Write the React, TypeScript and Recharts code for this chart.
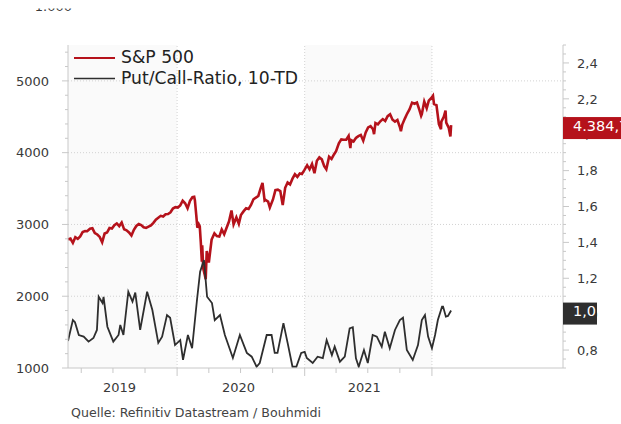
import React from 'react';
import { LineChart, Line, XAxis, YAxis, ReferenceArea, ReferenceLine, ReferenceDot } from 'recharts';

// S&P 500 (left axis)
const spxDates = [
  '2019-02-22', '2019-03-01', '2019-03-08', '2019-03-15', '2019-03-22', '2019-03-29', '2019-04-05', '2019-04-12',
  '2019-04-18', '2019-04-26', '2019-05-03', '2019-05-10', '2019-05-17', '2019-05-24', '2019-05-31', '2019-06-07',
  '2019-06-14', '2019-06-21', '2019-06-28', '2019-07-05', '2019-07-12', '2019-07-19', '2019-07-26', '2019-08-02',
  '2019-08-09', '2019-08-16', '2019-08-23', '2019-08-30', '2019-09-06', '2019-09-13', '2019-09-20', '2019-09-27',
  '2019-10-04', '2019-10-11', '2019-10-18', '2019-10-25', '2019-11-01', '2019-11-08', '2019-11-15', '2019-11-22',
  '2019-11-29', '2019-12-06', '2019-12-13', '2019-12-20', '2019-12-27', '2020-01-03', '2020-01-10', '2020-01-17',
  '2020-01-24', '2020-01-31', '2020-02-07', '2020-02-14', '2020-02-19', '2020-02-21', '2020-02-25', '2020-02-28',
  '2020-03-03', '2020-03-06', '2020-03-09', '2020-03-12', '2020-03-13', '2020-03-16', '2020-03-20', '2020-03-23',
  '2020-03-26', '2020-04-01', '2020-04-09', '2020-04-17', '2020-04-24', '2020-05-01', '2020-05-08', '2020-05-15',
  '2020-05-22', '2020-05-29', '2020-06-05', '2020-06-11', '2020-06-19', '2020-06-26', '2020-07-02', '2020-07-10',
  '2020-07-17', '2020-07-24', '2020-07-31', '2020-08-07', '2020-08-14', '2020-08-21', '2020-08-28', '2020-09-02',
  '2020-09-08', '2020-09-11', '2020-09-18', '2020-09-23', '2020-10-02', '2020-10-09', '2020-10-16', '2020-10-23',
  '2020-10-30', '2020-11-06', '2020-11-13', '2020-11-20', '2020-11-27', '2020-12-04', '2020-12-11', '2020-12-18',
  '2020-12-24', '2020-12-31', '2021-01-08', '2021-01-15', '2021-01-22', '2021-01-29', '2021-02-05', '2021-02-12',
  '2021-02-19', '2021-02-26', '2021-03-04', '2021-03-12', '2021-03-19', '2021-03-26', '2021-04-01', '2021-04-09',
  '2021-04-16', '2021-04-23', '2021-04-30', '2021-05-07', '2021-05-12', '2021-05-14', '2021-05-21', '2021-05-28',
  '2021-06-04', '2021-06-11', '2021-06-18', '2021-06-25', '2021-07-02', '2021-07-09', '2021-07-16', '2021-07-19',
  '2021-07-23', '2021-07-30', '2021-08-06', '2021-08-13', '2021-08-20', '2021-08-27', '2021-09-03', '2021-09-10',
  '2021-09-17', '2021-09-24', '2021-10-01', '2021-10-04', '2021-10-08', '2021-10-15', '2021-10-22', '2021-10-29',
  '2021-11-05', '2021-11-12', '2021-11-19', '2021-11-26', '2021-12-01', '2021-12-03', '2021-12-10', '2021-12-17',
  '2021-12-23', '2021-12-31', '2022-01-04', '2022-01-07', '2022-01-14', '2022-01-21', '2022-01-27', '2022-01-28',
  '2022-02-04', '2022-02-09', '2022-02-11', '2022-02-18', '2022-02-23', '2022-02-25',
];
const spxValues = [
  2793, 2804, 2743, 2822, 2800, 2834, 2893, 2907,
  2905, 2940, 2946, 2881, 2860, 2826, 2752, 2873,
  2887, 2950, 2942, 2990, 3014, 2977, 3026, 2932,
  2919, 2889, 2847, 2926, 2979, 3007, 2992, 2961,
  2952, 2970, 2986, 3023, 3067, 3093, 3120, 3110,
  3141, 3146, 3169, 3221, 3240, 3235, 3265, 3330,
  3295, 3226, 3328, 3380, 3386, 3338, 3128, 2954,
  3003, 2972, 2747, 2481, 2711, 2386, 2305, 2237,
  2630, 2470, 2790, 2875, 2837, 2831, 2930, 2864,
  2955, 3044, 3194, 3002, 3098, 3009, 3130, 3185,
  3225, 3216, 3271, 3351, 3373, 3397, 3508, 3580,
  3332, 3341, 3319, 3237, 3348, 3477, 3484, 3465,
  3270, 3510, 3585, 3558, 3638, 3699, 3663, 3709,
  3703, 3756, 3825, 3768, 3841, 3714, 3887, 3934,
  3907, 3811, 3768, 3943, 3913, 3975, 4020, 4129,
  4185, 4180, 4181, 4233, 4063, 4174, 4156, 4204,
  4230, 4247, 4166, 4281, 4352, 4370, 4327, 4258,
  4412, 4395, 4437, 4468, 4442, 4509, 4535, 4459,
  4433, 4455, 4357, 4300, 4391, 4471, 4545, 4605,
  4697, 4682, 4698, 4595, 4513, 4538, 4712, 4620,
  4725, 4766, 4793, 4677, 4662, 4398, 4327, 4432,
  4500, 4587, 4419, 4349, 4225, 4384.7,
];

// Put/Call-Ratio, 10-TD (right axis)
const pcrDates = [
  '2019-02-22', '2019-03-08', '2019-03-14', '2019-03-25', '2019-04-08', '2019-04-22', '2019-05-06', '2019-05-16',
  '2019-05-21', '2019-06-01', '2019-06-04', '2019-06-15', '2019-07-02', '2019-07-17', '2019-07-22', '2019-07-31',
  '2019-08-14', '2019-08-26', '2019-09-03', '2019-09-17', '2019-10-07', '2019-10-22', '2019-11-08', '2019-11-19',
  '2019-12-03', '2019-12-12', '2019-12-26', '2020-01-10', '2020-01-18', '2020-02-01', '2020-02-13', '2020-02-27',
  '2020-03-07', '2020-03-18', '2020-03-27', '2020-04-10', '2020-04-18', '2020-05-03', '2020-05-17', '2020-06-09',
  '2020-06-29', '2020-07-19', '2020-08-02', '2020-08-16', '2020-08-25', '2020-09-14', '2020-09-28', '2020-10-07',
  '2020-10-15', '2020-11-01', '2020-11-13', '2020-11-27', '2020-12-08', '2020-12-22', '2021-01-01', '2021-01-07',
  '2021-01-24', '2021-02-07', '2021-02-22', '2021-03-05', '2021-03-20', '2021-03-28', '2021-04-12', '2021-04-26',
  '2021-05-10', '2021-05-19', '2021-05-28', '2021-06-05', '2021-06-20', '2021-07-01', '2021-07-15', '2021-07-27',
  '2021-08-10', '2021-08-19', '2021-09-02', '2021-09-17', '2021-10-01', '2021-10-10', '2021-10-21', '2021-11-07',
  '2021-11-22', '2021-12-03', '2021-12-12', '2021-12-21', '2022-01-01', '2022-01-10', '2022-01-18', '2022-01-30',
  '2022-02-02', '2022-02-10', '2022-02-16', '2022-02-25',
];
const pcrValues = [
  0.85, 0.967, 0.955, 0.884, 0.875, 0.847, 0.867, 0.912,
  1.097, 1.062, 1.096, 0.93, 0.847, 0.884, 0.94, 0.884,
  1.125, 1.07, 1.12, 0.912, 1.125, 1.023, 0.84, 0.875,
  0.995, 0.98, 0.828, 0.856, 0.745, 0.884, 0.81, 1.079,
  1.237, 1.302, 1.097, 1.062, 0.967, 0.995, 0.884, 0.756,
  0.884, 0.784, 0.763, 0.707, 0.728, 0.884, 0.884, 0.784,
  0.784, 0.95, 0.84, 0.707, 0.707, 0.784, 0.79, 0.756,
  0.728, 0.763, 0.755, 0.856, 0.772, 0.819, 0.735, 0.763,
  0.921, 0.927, 0.754, 0.707, 0.8, 0.728, 0.884, 0.875,
  0.819, 0.902, 0.81, 0.912, 0.967, 0.98, 0.8, 0.745,
  0.828, 0.967, 0.995, 0.875, 0.81, 0.884, 0.967, 1.042,
  1.042, 0.986, 0.99, 1.02,
];

const xDomain = ['2019-02-22', '2023-01-12'];
const quarterTicks = [
  '2019-04-01', '2019-07-01', '2019-10-01', '2020-01-01', '2020-04-01', '2020-07-01',
  '2020-10-01', '2021-01-01', '2021-04-01', '2021-07-01', '2021-10-01', '2022-01-01',
];
const yearStarts = ['2020-01-01', '2021-01-01', '2022-01-01'];
const shadedYears = [['2019-02-22', '2020-01-01'], ['2021-01-01', '2022-01-01']];
const yearLabels = ['2019', '2020', '2021'];
const yearLabelDates = ['2019-07-20', '2020-06-25', '2021-06-21'];

const leftTicks = [1000, 1200, 1400, 1600, 1800, 2000, 2200, 2400, 2600, 2800, 3000, 3200, 3400, 3600,
  3800, 4000, 4200, 4400, 4600, 4800, 5000, 5200, 5400];
const leftGrid = [2000, 3000, 4000, 5000];
const rightTicks = [0.7, 0.75, 0.8, 0.85, 0.9, 0.95, 1.0, 1.05, 1.1, 1.15, 1.2, 1.25, 1.3, 1.35, 1.4, 1.45,
  1.5, 1.55, 1.6, 1.65, 1.7, 1.75, 1.8, 1.85, 1.9, 1.95, 2.0, 2.05, 2.1, 2.15, 2.2, 2.25, 2.3, 2.35, 2.4, 2.45, 2.5];

const ts = (d: string) => Date.parse(d + 'T00:00:00Z');

const spxData = spxDates.map((d, i) => ({ t: ts(d), v: spxValues[i] }));
const pcrData = pcrDates.map((d, i) => ({ t: ts(d), v: pcrValues[i] }));

const W = 621;
const H = 424;
const PLOT_LEFT = 68;
const PLOT_RIGHT = 563;
const PLOT_BOTTOM = 368;
const RED = '#b5121b';
const DARK = '#2e2e2e';
const AXIS = '#c8c8c8';
const TEXT = '#3a3a3a';
const FONT = '"DejaVu Sans", Verdana, sans-serif';

const fmtDe = (v: number, digits: number) => {
  const [int, dec] = v.toFixed(digits).split('.');
  const grouped = int.replace(/\B(?=(\d{3})+(?!\d))/g, '.');
  return dec ? grouped + ',' + dec : grouped;
};

const labelTs = yearLabelDates.map(ts);
const yearTs = yearStarts.map(ts);

const XTick = (props: any) => {
  const { x, payload } = props;
  const idx = labelTs.indexOf(payload.value);
  if (idx >= 0) {
    return (
      <text x={x} y={391.5} textAnchor="middle" fontSize={13} fill={TEXT} fontFamily={FONT}>
        {yearLabels[idx]}
      </text>
    );
  }
  const len = yearTs.includes(payload.value) ? 8 : 5;
  return <line x1={x} x2={x} y1={PLOT_BOTTOM} y2={PLOT_BOTTOM + len} stroke={AXIS} />;
};

const LeftTick = (props: any) => {
  const { y, payload } = props;
  const major = payload.value % 1000 === 0;
  return (
    <g>
      <line x1={PLOT_LEFT - (major ? 6 : 3)} x2={PLOT_LEFT} y1={y} y2={y} stroke={AXIS} />
      {major && (
        <text x={49} y={y + 4.7} textAnchor="end" fontSize={13} fill={TEXT} fontFamily={FONT}>
          {payload.value}
        </text>
      )}
    </g>
  );
};

const RightTick = (props: any) => {
  const { y, payload } = props;
  const hundredths = Math.round(payload.value * 100);
  const major = hundredths % 20 === 0;
  return (
    <g>
      <line x1={PLOT_RIGHT} x2={PLOT_RIGHT + (major ? 6 : 3)} y1={y} y2={y} stroke={AXIS} />
      {major && (
        <text x={577} y={y + 4.7} textAnchor="start" fontSize={13} fill={TEXT} fontFamily={FONT}>
          {fmtDe(payload.value, 1)}
        </text>
      )}
    </g>
  );
};

const valueBox = (fill: string, text: string, width: number) => (props: any) => {
  const { cy } = props;
  return (
    <g>
      <rect x={PLOT_RIGHT} y={cy - 8} width={width} height={22} fill={fill} />
      <text x={573} y={cy + 5.5} fontSize={14.5} fill="#ffffff" fontFamily={FONT}>
        {text}
      </text>
    </g>
  );
};

const lastSpx = spxData[spxData.length - 1];
const lastPcr = pcrData[pcrData.length - 1];

export default function App() {
  return (
    <div style={{ position: 'absolute', left: 0, top: 0, width: W, height: H, background: '#fff', fontFamily: FONT }}>
      <LineChart width={W} height={H} margin={{ top: 45, right: 0, bottom: 26, left: 0 }}>
        {shadedYears.map(([a, b]) => (
          <ReferenceArea key={a} x1={ts(a)} x2={ts(b)} yAxisId="left" fill="#fafafa" fillOpacity={1} stroke="none" />
        ))}
        {leftGrid.map((v) => (
          <ReferenceLine key={v} y={v} yAxisId="left" stroke="#d2d2d2" strokeDasharray="1 2" />
        ))}
        {yearStarts.map((d) => (
          <ReferenceLine key={d} x={ts(d)} yAxisId="left" stroke="#d2d2d2" strokeDasharray="1 2" />
        ))}
        <XAxis
          dataKey="t"
          type="number"
          domain={xDomain.map(ts)}
          ticks={[...quarterTicks.map(ts), ...labelTs].sort((a, b) => a - b)}
          interval={0}
          tick={<XTick />}
          tickLine={false}
          axisLine={{ stroke: AXIS }}
          height={30}
          allowDataOverflow
        />
        <YAxis
          yAxisId="left"
          orientation="left"
          width={68}
          domain={[1000, 5500]}
          ticks={leftTicks}
          interval={0}
          tick={<LeftTick />}
          tickLine={false}
          axisLine={{ stroke: AXIS }}
          allowDataOverflow
        />
        <YAxis
          yAxisId="right"
          orientation="right"
          width={58}
          domain={[0.7, 2.5]}
          ticks={rightTicks}
          interval={0}
          tick={<RightTick />}
          tickLine={false}
          axisLine={{ stroke: AXIS }}
          allowDataOverflow
        />
        <Line
          data={spxData}
          dataKey="v"
          yAxisId="left"
          type="linear"
          stroke={RED}
          strokeWidth={2.6}
          dot={false}
          isAnimationActive={false}
        />
        <Line
          data={pcrData}
          dataKey="v"
          yAxisId="right"
          type="linear"
          stroke={DARK}
          strokeWidth={1.8}
          dot={false}
          isAnimationActive={false}
        />
        <ReferenceDot
          x={lastSpx.t}
          y={lastSpx.v}
          yAxisId="left"
          zIndex={3000}
          shape={valueBox(RED, fmtDe(lastSpx.v, 1), 70)}
        />
        <ReferenceDot
          x={lastPcr.t}
          y={lastPcr.v}
          yAxisId="right"
          zIndex={3000}
          shape={valueBox(DARK, fmtDe(lastPcr.v, 1), 34)}
        />
      </LineChart>
      <svg width={W} height={H} style={{ position: 'absolute', left: 0, top: 0, pointerEvents: 'none' }}>
        <defs>
          <clipPath id="stubClip">
            <rect x={0} y={8.5} width={W} height={10} />
          </clipPath>
        </defs>
        <text x={72} y={10.5} textAnchor="end" fontSize={13} fill={TEXT} fontFamily={FONT} clipPath="url(#stubClip)">
          1.000
        </text>
        <line x1={74} x2={115} y1={58} y2={58} stroke={RED} strokeWidth={2} />
        <text x={121} y={63} fontSize={17.2} fill="#222" fontFamily={FONT}>S&amp;P 500</text>
        <line x1={74} x2={115} y1={78.5} y2={78.5} stroke={DARK} strokeWidth={1.6} />
        <text x={121} y={83.5} fontSize={17.2} fill="#222" fontFamily={FONT}>Put/Call-Ratio, 10-TD</text>
        <text x={71} y={417} fontSize={12.6} fill="#444" fontFamily={FONT}>
          Quelle: Refinitiv Datastream / Bouhmidi
        </text>
      </svg>
    </div>
  );
}
